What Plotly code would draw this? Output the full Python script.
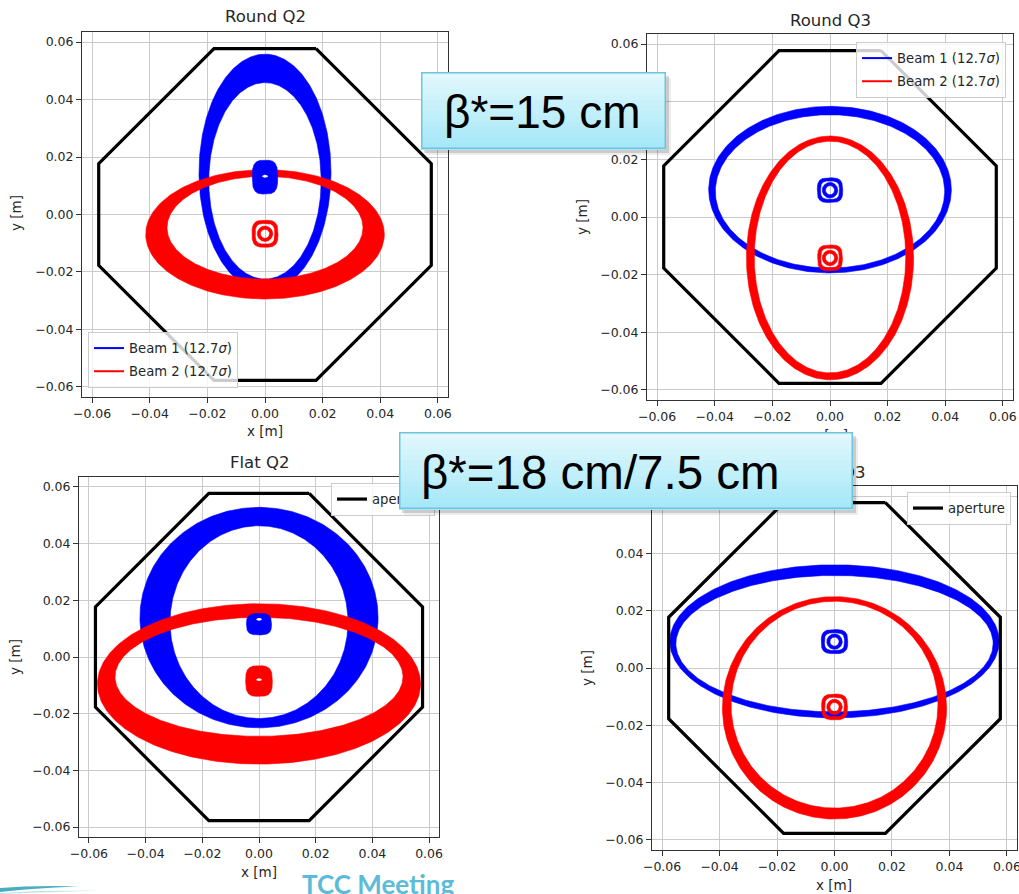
import numpy as np
import plotly.graph_objects as go

W, H = 1019, 894

# ---------------- data ----------------
panel_titles = ["Round Q2", "Round Q3", "Flat Q2", "Flat Q3"]
tick_vals = [-0.06, -0.04, -0.02, 0.0, 0.02, 0.04, 0.06]
tick_text = ["\u22120.06", "\u22120.04", "\u22120.02", "0.00", "0.02", "0.04", "0.06"]

# aperture octagon vertices [m]
ap_x = [0.0177, 0.0577, 0.0577, 0.0177, -0.0177, -0.0577, -0.0577, -0.0177, 0.0177]
ap_y = [0.0577, 0.0177, -0.0177, -0.0577, -0.0577, -0.0177, 0.0177, 0.0577, 0.0577]

# beam envelopes (12.7 sigma): outer / inner ellipse of the band (centre y, half-width, half-height)
b1_out_cy = [0.0146, 0.0095, 0.0139, 0.0093]
b1_out_ax = [0.0229, 0.0421, 0.0420, 0.0573]
b1_out_ay = [0.0412, 0.0289, 0.0389, 0.0267]
b1_in_cy = [0.0117, 0.0089, 0.0123, 0.0085]
b1_in_ax = [0.0195, 0.0398, 0.0314, 0.0552]
b1_in_ay = [0.0342, 0.0266, 0.0340, 0.0238]

b2_out_cy = [-0.0069, -0.0142, -0.0095, -0.0139]
b2_out_ax = [0.0414, 0.0290, 0.0570, 0.0390]
b2_out_ay = [0.0225, 0.0423, 0.0283, 0.0388]
b2_in_cy = [-0.0046, -0.0139, -0.0070, -0.0128]
b2_in_ax = [0.0340, 0.0263, 0.0508, 0.0360]
b2_in_ay = [0.0179, 0.0402, 0.0210, 0.0361]

# beam cores (closed orbit region)
b1_core_cy = [0.0130, 0.0093, 0.0116, 0.0092]
b1_core_hx = [0.0044, 0.0044, 0.0044, 0.0046]
b1_core_hy = [0.0059, 0.0043, 0.0038, 0.0042]
b1_core_style = ["filled", "rings", "filled", "rings"]
b1_hole_dy = [0.0003, 0.0, 0.0017, 0.0]

b2_core_cy = [-0.0067, -0.0142, -0.0085, -0.0136]
b2_core_hx = [0.0045, 0.0043, 0.0047, 0.0045]
b2_core_hy = [0.0047, 0.0045, 0.0054, 0.0045]
b2_core_style = ["rings", "rings", "filled", "rings"]
b2_hole_dy = [0.0, 0.0, 0.0005, 0.0]

beam_names = ["Beam 1 (12.7<i>\u03c3</i>)", "Beam 2 (12.7<i>\u03c3</i>)"]
aperture_name = "aperture"
box_texts = ["\u03b2*=15 cm", "\u03b2*=18 cm/7.5 cm"]
footer_text = "TCC Meeting"

# ---------------- layout geometry (pixels) ----------------
dom_px = [(82, 448, 32, 397), (647, 1013, 34, 400), (79, 439, 477, 837), (652, 1017, 486, 850)]
title_px = [(265, 16), (830, 20), (259, 462), (835, 472)]
xlab_px = [(265, 431), (830, 435), (259, 872), (834, 885)]
ylab_px = [(16, 213), (582, 217), (15, 657), (587, 668)]
RNG = [-0.0635, 0.0635]
BLUE, RED = "#0000ff", "#ff0000"


def px(x):
    return x / W


def py(y):
    return 1 - y / H


T = np.linspace(0, 2 * np.pi, 361)


def ell(cx, cy, ax, ay):
    return cx + ax * np.cos(T), cy + ay * np.sin(T)


def sup(cx, cy, hx, hy, n=4.0):
    c, s = np.cos(T), np.sin(T)
    return (cx + hx * np.sign(c) * np.abs(c) ** (2 / n),
            cy + hy * np.sign(s) * np.abs(s) ** (2 / n))


def ring(outer, inner):
    xo, yo = outer
    xi, yi = inner
    return np.concatenate([xo, xi[::-1]]), np.concatenate([yo, yi[::-1]])


fig = go.Figure()


def add_fill(xy, color, i, lw=0.6):
    sfx = "" if i == 0 else str(i + 1)
    fig.add_trace(go.Scatter(
        x=xy[0], y=xy[1], mode="lines", fill="toself", fillcolor=color,
        line=dict(color=color, width=lw), xaxis="x" + sfx, yaxis="y" + sfx,
        showlegend=False, hoverinfo="skip"))


def add_core(i, cy, hx, hy, style, hole_dy, color):
    if style == "filled":
        add_fill(sup(0, cy, hx, hy, 3.2), color, i)
        add_fill(ell(0, cy + hole_dy, 0.0010, 0.0005), "white", i, 0)
    else:
        add_fill(ring(sup(0, cy, hx, hy, 3.2), sup(0, cy, hx - 0.0011, hy - 0.0011, 3.2)), color, i)
        add_fill(ring(ell(0, cy, 0.0027, 0.0027), ell(0, cy, 0.0016, 0.0016)), color, i)


for i in range(4):
    sfx = "" if i == 0 else str(i + 1)
    add_fill(ring(ell(0, b1_out_cy[i], b1_out_ax[i], b1_out_ay[i]),
                  ell(0, b1_in_cy[i], b1_in_ax[i], b1_in_ay[i])), BLUE, i)
    add_fill(ring(ell(0, b2_out_cy[i], b2_out_ax[i], b2_out_ay[i]),
                  ell(0, b2_in_cy[i], b2_in_ax[i], b2_in_ay[i])), RED, i)
    add_core(i, b1_core_cy[i], b1_core_hx[i], b1_core_hy[i], b1_core_style[i], b1_hole_dy[i], BLUE)
    add_core(i, b2_core_cy[i], b2_core_hx[i], b2_core_hy[i], b2_core_style[i], b2_hole_dy[i], RED)
    leg = "legend" if i == 0 else "legend" + str(i + 1)
    fig.add_trace(go.Scatter(
        x=ap_x, y=ap_y, mode="lines", line=dict(color="black", width=3.2),
        xaxis="x" + sfx, yaxis="y" + sfx, name=aperture_name,
        showlegend=(i >= 2), legend=leg, hoverinfo="skip"))
    if i < 2:
        for nm, col in zip(beam_names, [BLUE, RED]):
            fig.add_trace(go.Scatter(
                x=[None], y=[None], mode="lines", line=dict(color=col, width=2),
                xaxis="x" + sfx, yaxis="y" + sfx, name=nm, legend=leg,
                legendgroup=nm + str(i), showlegend=True))

axis_common = dict(
    range=RNG, tickvals=tick_vals, ticktext=tick_text, ticks="outside", ticklen=5,
    tickwidth=1, tickcolor="#333333", showline=True, linecolor="#333333", linewidth=1,
    mirror=True, showgrid=True, gridcolor="#cbcbcb", gridwidth=1, zeroline=False,
    automargin=False, fixedrange=True, ticklabeloverflow="allow",
    tickfont=dict(family="DejaVu Sans", size=12.5, color="#262626"))

layout = dict(
    width=W, height=H, margin=dict(l=0, r=0, t=0, b=0),
    paper_bgcolor="white", plot_bgcolor="white", template="none",
    showlegend=True)

for i in range(4):
    sfx = "" if i == 0 else str(i + 1)
    x0, x1, y0, y1 = dom_px[i]
    layout["xaxis" + sfx] = dict(axis_common, domain=[px(x0), px(x1)], anchor="y" + sfx)
    layout["yaxis" + sfx] = dict(axis_common, domain=[py(y1), py(y0)], anchor="x" + sfx)

legend_common = dict(
    bgcolor="rgba(255,255,255,0.8)", bordercolor="#cccccc", borderwidth=1,
    font=dict(family="DejaVu Sans", size=13.2, color="#262626"),
    tracegroupgap=3, traceorder="grouped")
layout["legend"] = dict(legend_common, x=px(88), y=py(388), xanchor="left", yanchor="bottom")
layout["legend2"] = dict(legend_common, x=px(1006), y=py(42), xanchor="right", yanchor="top")
layout["legend3"] = dict(legend_common, x=px(435), y=py(483), xanchor="right", yanchor="top")
layout["legend4"] = dict(legend_common, x=px(1011), y=py(492), xanchor="right", yanchor="top")

ann = []
lab_font = dict(family="DejaVu Sans", size=13.5, color="#262626")
for i in range(4):
    ann.append(dict(text=panel_titles[i], x=px(title_px[i][0]), y=py(title_px[i][1]),
                    xref="paper", yref="paper", xanchor="center", yanchor="middle",
                    showarrow=False, font=dict(family="DejaVu Sans", size=16.5, color="#262626")))
    ann.append(dict(text="x [m]", x=px(xlab_px[i][0]), y=py(xlab_px[i][1]),
                    xref="paper", yref="paper", xanchor="center", yanchor="middle",
                    showarrow=False, font=lab_font))
    ann.append(dict(text="y [m]", x=px(ylab_px[i][0]), y=py(ylab_px[i][1]), textangle=-90,
                    xref="paper", yref="paper", xanchor="center", yanchor="middle",
                    showarrow=False, font=lab_font))

ann.append(dict(text="<b>" + footer_text + "</b>", x=px(300), y=py(866), xref="paper", yref="paper",
                xanchor="left", yanchor="top", showarrow=False,
                font=dict(family="Lato", size=26, color="#5cbbd9")))


def add_box(x0, x1, y0, y1):
    w, h = x1 - x0, y1 - y0
    for dx, dy, a in [(5, 6, 0.07), (3, 4, 0.14)]:
        ann.append(dict(text=" ", x=px(x0 + dx), y=py(y0 + dy), xref="paper", yref="paper",
                        xanchor="left", yanchor="top", showarrow=False, width=w, height=h,
                        borderpad=0, borderwidth=0, bgcolor="rgba(0,0,0,%g)" % a,
                        font=dict(size=2)))
    n = 14
    top, bot = np.array([226, 248, 253]), np.array([166, 232, 248])
    for k in range(n):
        f = k / (n - 1)
        c = top * (1 - f) + bot * f
        yy = y0 + h * k / n
        ann.append(dict(text=" ", x=px(x0), y=py(yy), xref="paper", yref="paper",
                        xanchor="left", yanchor="top", showarrow=False, width=w,
                        height=int(np.ceil(h / n)) + 1, borderpad=0, borderwidth=0,
                        bgcolor="rgb(%d,%d,%d)" % tuple(c.astype(int)), font=dict(size=2)))
    ann.append(dict(text=" ", x=px(x0), y=py(y0), xref="paper", yref="paper",
                    xanchor="left", yanchor="top", showarrow=False, width=w - 3, height=h - 3,
                    borderpad=0, borderwidth=1.5, bordercolor="#6fc3dc",
                    bgcolor="rgba(0,0,0,0)", font=dict(size=2)))


add_box(421, 666, 72, 149)
add_box(399, 853, 432, 509)
ann.append(dict(text=box_texts[0], x=px(542), y=py(112), xref="paper", yref="paper",
                xanchor="center", yanchor="middle", showarrow=False,
                font=dict(family="Liberation Sans", size=46, color="black")))
ann.append(dict(text=box_texts[1], x=px(419), y=py(472), xref="paper", yref="paper",
                xanchor="left", yanchor="middle", showarrow=False,
                font=dict(family="Liberation Sans", size=47.5, color="black")))

layout["annotations"] = ann


def pth(pts):
    s = "M " + " L ".join("%.5f,%.5f" % (px(a), py(b)) for a, b in pts) + " Z"
    return s


layout["shapes"] = [
    dict(type="path", xref="paper", yref="paper", layer="above",
         path=pth([(0, 888), (25, 886.5), (55, 886), (78, 886.5), (55, 887.5), (25, 889.5), (0, 892)]),
         fillcolor="#2a9db2", line=dict(width=0), opacity=0.85),
    dict(type="path", xref="paper", yref="paper", layer="above",
         path=pth([(0, 893), (40, 891), (100, 890.5), (40, 892.5), (0, 894)]),
         fillcolor="#9fd6e2", line=dict(width=0), opacity=0.7),
]

fig.update_layout(layout)
fig.write_html("out.html", config={"displayModeBar": False, "staticPlot": True},
               post_script="document.body.style.margin='0';document.body.style.overflow='hidden';")
